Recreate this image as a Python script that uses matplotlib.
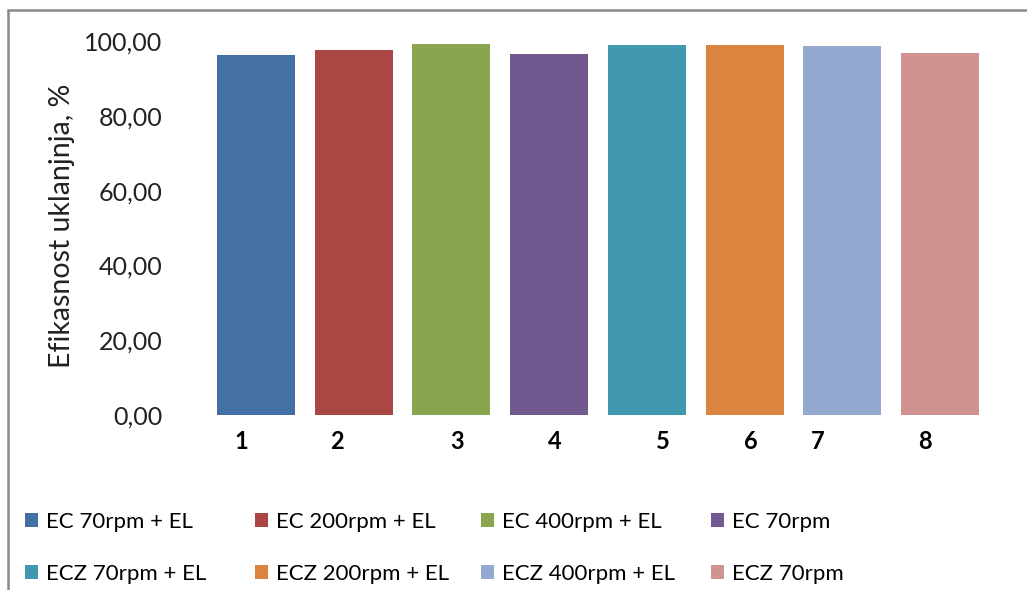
import matplotlib
matplotlib.use('Agg')
import matplotlib.pyplot as plt
from matplotlib.patches import Rectangle

plt.rcParams['font.family'] = ['Lato', 'DejaVu Sans']

# Data
categories = ['1', '2', '3', '4', '5', '6', '7', '8']
series = ['EC 70rpm + EL', 'EC 200rpm + EL', 'EC 400rpm + EL', 'EC 70rpm',
          'ECZ 70rpm + EL', 'ECZ 200rpm + EL', 'ECZ 400rpm + EL', 'ECZ 70rpm']
values = [96.3, 97.5, 99.2, 96.5, 98.9, 98.9, 98.6, 96.9]
colors = ['#4570a5', '#aa4644', '#89a54e', '#71588f', '#4198af', '#db843d', '#93a9cf', '#d19392']
# tick label positions (labels are slightly off-centre in the original)
label_pos = [0.85, 1.83, 3.06, 4.06, 5.16, 6.06, 6.75, 7.84]

fig = plt.figure(figsize=(10.27, 5.90), dpi=100)
ax = fig.add_axes([207 / 1027, 1 - 415 / 590, (989 - 207) / 1027, (415 - 41) / 590])

handles = []
for i in range(len(values)):
    b = ax.bar(i + 1, values[i], width=0.8, color=colors[i], label=series[i])
    handles.append(b)

ax.set_xlim(0.5, 8.5)
ax.set_ylim(0, 100)
ax.set_yticks([0, 20, 40, 60, 80, 100])
ax.set_yticklabels(['0,00', '20,00', '40,00', '60,00', '80,00', '100,00'])
ax.set_xticks(label_pos)
ax.set_xticklabels(categories, fontweight='bold')
ax.tick_params(axis='y', length=0, pad=32, labelsize=18, labelcolor='#222222')
ax.tick_params(axis='x', length=0, pad=11, labelsize=17)
for s in ax.spines.values():
    s.set_visible(False)

fig.text(62 / 1027, 1 - 226 / 590, 'Efikasnost uklanjnja, %',
         rotation=90, ha='center', va='center', fontsize=20.5, color='#222222')

# legend: one small legend per column so the columns sit where they do in the original
col_x = [27, 257, 483, 713]
for c in range(4):
    leg = fig.legend([handles[c], handles[c + 4]], [series[c], series[c + 4]],
                     loc='upper left', bbox_to_anchor=((col_x[c] - 2) / 1027, 1 - 512 / 590),
                     borderaxespad=0, borderpad=0,
                     frameon=False, fontsize=16, handlelength=0.6, handleheight=0.6,
                     handletextpad=0.35, labelspacing=1.45)

fig.patches.append(Rectangle((8 / 1027, -0.1), 1.2, 1 - 10 / 590 + 0.1, transform=fig.transFigure,
                             fill=False, edgecolor='#8a8a8a', linewidth=1.8))

fig.savefig('out.png', dpi=100)
